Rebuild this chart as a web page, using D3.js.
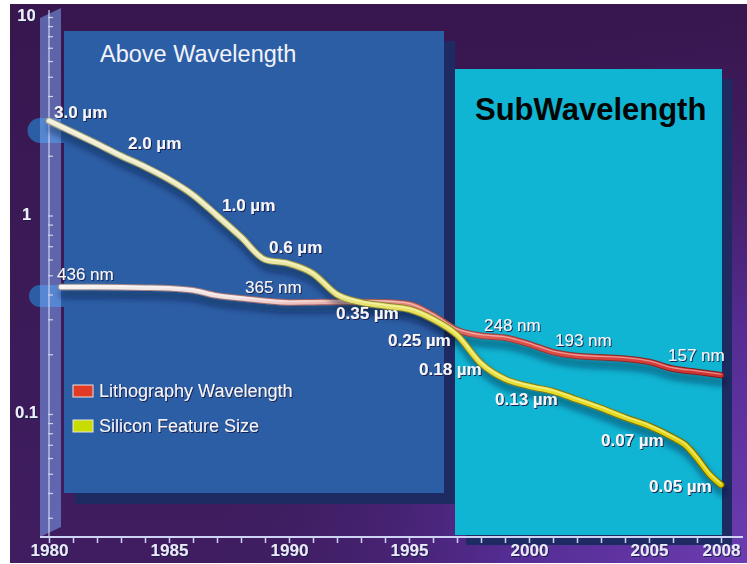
<!DOCTYPE html>
<html>
<head>
<meta charset="utf-8">
<script src="https://cdn.jsdelivr.net/npm/d3@7"></script>
<style>
  html, body { margin: 0; padding: 0; background: #ffffff; }
  svg { display: block; }
  text { font-family: "Liberation Sans", Arial, Helvetica, sans-serif; }
</style>
</head>
<body>
<svg id="chart" width="747" height="564"></svg>
<script>
// ---- data -------------------------------------------------------------
// Silicon feature size (µm) by year
const featureYears = [1980, 1981, 1982, 1983, 1984, 1985, 1986, 1987, 1988, 1989,
  1990, 1991, 1992, 1993, 1994, 1995, 1996, 1997, 1998, 1999,
  2000, 2001, 2002, 2003, 2004, 2005, 2006, 2006.5, 2007, 2007.5, 2008];
const featureSizes = [3.0, 2.63, 2.3, 2.0, 1.76, 1.52, 1.27, 1.0, 0.78, 0.6,
  0.572, 0.51, 0.40, 0.365, 0.35, 0.337, 0.30, 0.25, 0.18, 0.15,
  0.138, 0.13, 0.118, 0.107, 0.096, 0.087, 0.076, 0.07, 0.060, 0.05, 0.044];

// Lithography wavelength (µm) by year
const lithoYears = [1980.5, 1981, 1982, 1983, 1984, 1985, 1986, 1987, 1988, 1989,
  1990, 1991, 1992, 1993, 1994, 1995, 1996, 1997, 1998, 1999,
  2000, 2001, 2002, 2003, 2004, 2005, 2006, 2007, 2008];
const lithoWavelengths = [0.436, 0.436, 0.436, 0.435, 0.433, 0.43, 0.42, 0.395, 0.383, 0.372,
  0.365, 0.366, 0.367, 0.367, 0.366, 0.357, 0.315, 0.265, 0.248, 0.242,
  0.225, 0.205, 0.196, 0.193, 0.19, 0.183, 0.169, 0.163, 0.157];

// Annotated nodes
const featureLabelTexts = ["3.0 µm", "2.0 µm", "1.0 µm", "0.6 µm", "0.35 µm",
  "0.25 µm", "0.18 µm", "0.13 µm", "0.07 µm", "0.05 µm"];
const featureLabelYears = [1980, 1983, 1987, 1989, 1994, 1997, 1998, 2001, 2006.5, 2007.5];
const featureLabelValues = [3.0, 2.0, 1.0, 0.6, 0.35, 0.25, 0.18, 0.13, 0.07, 0.05];

const lithoLabelTexts = ["436 nm", "365 nm", "248 nm", "193 nm", "157 nm"];
const lithoLabelYears = [1980.5, 1990, 1998, 2003, 2008];
const lithoLabelValues = [0.436, 0.365, 0.248, 0.193, 0.157];

// Axes
const xTickYears = d3.range(1980, 2009);
const xTickLabels = [1980, 1985, 1990, 1995, 2000, 2005, 2008];
const yTickValues = [10, 1, 0.1];
const yTickLabels = ["10", "1", "0.1"];

const legendNames = ["Lithography Wavelength", "Silicon Feature Size"];
const panelTitles = ["Above Wavelength", "SubWavelength"];

// ---- layout ------------------------------------------------------------
// label offsets (px) from each annotated node to the text's left baseline
const featureLabelOffsets = [[5, -3], [7, -7], [5, -4.5], [4, -6.5], [-49, 13],
  [-69, 11], [-62, 12], [-58, 14], [-84, 1], [-60, 18]];
const lithoLabelOffsets = [[-4, -7], [-44, -9.5], [3, -5], [-46, -11], [-53, -14]];

const W = 747, H = 564;
const svg = d3.select("#chart");

const x = d3.scaleLinear().domain([1980, 2008]).range([49, 721]);
const y = d3.scaleLog().domain([10, 0.1]).range([17, 414]);
const axisY = 537;

// ---- defs --------------------------------------------------------------
const defs = svg.append("defs");

const bgGrad = defs.append("linearGradient").attr("id", "bgGrad")
  .attr("x1", 0).attr("y1", 0).attr("x2", 0).attr("y2", 1);
bgGrad.append("stop").attr("offset", 0).attr("stop-color", "#38174f");
bgGrad.append("stop").attr("offset", 1).attr("stop-color", "#3f1d60");

const glow = defs.append("radialGradient").attr("id", "glow")
  .attr("gradientUnits", "userSpaceOnUse")
  .attr("cx", 760).attr("cy", 575).attr("r", 560);
glow.append("stop").attr("offset", 0).attr("stop-color", "#6e3eb4").attr("stop-opacity", 1);
glow.append("stop").attr("offset", 0.45).attr("stop-color", "#5a30a0").attr("stop-opacity", 0.8);
glow.append("stop").attr("offset", 1).attr("stop-color", "#3f1d60").attr("stop-opacity", 0);

function strokeGradient(id, stops) {
  const g = defs.append("linearGradient").attr("id", id)
    .attr("gradientUnits", "userSpaceOnUse")
    .attr("x1", x(1980)).attr("y1", 0).attr("x2", x(2008)).attr("y2", 0);
  stops.forEach(([o, c]) => g.append("stop").attr("offset", o).attr("stop-color", c));
}
strokeGradient("featGrad", [[0, "#efeed6"], [0.3, "#e9e7b0"], [0.45, "#e8e47a"],
  [0.6, "#e8e244"], [0.8, "#e6dc20"], [1, "#dccf00"]]);
strokeGradient("featEdge", [[0, "#9a987e"], [0.4, "#908c40"], [1, "#6e6400"]]);
strokeGradient("lithoGrad", [[0, "#f6f3f3"], [0.28, "#f1dede"], [0.42, "#eab0aa"],
  [0.55, "#e47c72"], [0.7, "#de5048"], [1, "#d03030"]]);
strokeGradient("lithoEdge", [[0, "#a09898"], [0.4, "#a06060"], [1, "#801818"]]);

const lineShadow = defs.append("filter").attr("id", "lineShadow")
  .attr("x", "-10%").attr("y", "-20%").attr("width", "130%").attr("height", "160%");
lineShadow.append("feDropShadow").attr("dx", 2).attr("dy", 7).attr("stdDeviation", 3.5)
  .attr("flood-color", "#061034").attr("flood-opacity", 0.55);

const textShadow = defs.append("filter").attr("id", "textShadow")
  .attr("x", "-10%").attr("y", "-30%").attr("width", "130%").attr("height", "170%");
textShadow.append("feDropShadow").attr("dx", 1).attr("dy", 1).attr("stdDeviation", 0.7)
  .attr("flood-color", "#141c48").attr("flood-opacity", 0.95);

// ---- background ----------------------------------------------------------
svg.append("rect").attr("x", 10).attr("y", 4).attr("width", W - 10).attr("height", 559)
  .attr("fill", "url(#bgGrad)");
svg.append("rect").attr("x", 10).attr("y", 4).attr("width", W - 10).attr("height", 559)
  .attr("fill", "url(#glow)");

// ---- panels ------------------------------------------------------------
const panels = svg.append("g");
panels.append("rect").attr("x", 75).attr("y", 41).attr("width", 380).attr("height", 463)
  .attr("fill", "#1e2b63");
panels.append("rect").attr("x", 64).attr("y", 31).attr("width", 380).attr("height", 462)
  .attr("fill", "#2c5ea5");
panels.append("rect").attr("x", 466).attr("y", 79).attr("width", 266).attr("height", 466)
  .attr("fill", "#1e2b63");
panels.append("rect").attr("x", 455).attr("y", 69).attr("width", 267).attr("height", 466)
  .attr("fill", "#10b5d3");

// round tabs joining the axis to the panel
[[130.5, 12.5], [296, 11]].forEach(([cy, r]) => {
  panels.append("circle").attr("cx", 40).attr("cy", cy).attr("r", r).attr("fill", "#2c5ea5");
  panels.append("rect").attr("x", 40).attr("y", cy - r).attr("width", 24).attr("height", 2 * r)
    .attr("fill", "#2c5ea5");
});

// translucent axis band
svg.append("path")
  .attr("d", "M40,18 L61,8 L61,527 L40,537 Z")
  .attr("fill", "rgba(130,175,255,0.5)");

// ---- axes ----------------------------------------------------------------
const axisColor = "#cdd3f2";

// vertical axis line + log ticks
svg.append("line").attr("x1", 49).attr("x2", 49).attr("y1", 10).attr("y2", axisY)
  .attr("stroke", axisColor).attr("stroke-width", 1.2);

const yMinorTicks = d3.scaleLog().domain([0.025, 10]).ticks();
const yAxis = d3.axisRight(y).tickValues(yMinorTicks).tickSize(5).tickFormat("");
const yAxisG = svg.append("g").attr("transform", "translate(48,0)").call(yAxis);
yAxisG.select(".domain").remove();
yAxisG.selectAll(".tick line").attr("stroke", axisColor).attr("stroke-width", 1.2);

svg.append("g").attr("filter", "url(#textShadow)")
  .selectAll("text").data(yTickValues).join("text")
  .attr("x", 26.5).attr("y", d => y(d) + 4)
  .attr("text-anchor", "middle")
  .attr("font-size", 16.5).attr("font-weight", "bold").attr("fill", "#eeeefa")
  .text((d, i) => yTickLabels[i]);

// horizontal axis
svg.append("line").attr("x1", 40).attr("x2", 743).attr("y1", axisY).attr("y2", axisY)
  .attr("stroke", axisColor).attr("stroke-width", 2);

const xAxis = d3.axisBottom(x).tickValues(xTickYears).tickSize(7).tickPadding(1)
  .tickFormat(d => xTickLabels.includes(d) ? String(d) : "");
const xAxisG = svg.append("g").attr("transform", `translate(0,${axisY - 1})`).call(xAxis);
xAxisG.select(".domain").remove();
xAxisG.selectAll(".tick line").attr("stroke", axisColor).attr("stroke-width", 1.5);
xAxisG.selectAll(".tick text")
  .attr("font-family", "'Liberation Sans', Arial, sans-serif")
  .attr("font-size", 17).attr("font-weight", "bold").attr("fill", "#e8e8f8")
  .attr("filter", "url(#textShadow)");

// ---- panel titles & legend ---------------------------------------------------
svg.append("text").attr("x", 100).attr("y", 61.5)
  .attr("font-size", 23.5).attr("fill", "#f2f3fa").text(panelTitles[0]);
svg.append("text").attr("x", 475).attr("y", 120)
  .attr("font-size", 31).attr("font-weight", "bold").attr("fill", "#050505").text(panelTitles[1]);

const legendColors = ["#e23a24", "#c8dc00"];
const legendRows = [391, 426];
const legend = svg.append("g");
legendNames.forEach((name, i) => {
  legend.append("rect").attr("x", 73).attr("y", legendRows[i] - 6).attr("width", 20).attr("height", 12)
    .attr("fill", legendColors[i]).attr("stroke", "#e8e4e4").attr("stroke-width", 1);
  legend.append("text").attr("x", 99).attr("y", legendRows[i] + 6)
    .attr("font-size", 18).attr("fill", "#f4f4fa").attr("filter", "url(#textShadow)")
    .text(name);
});

// ---- series lines ----------------------------------------------------------------
const line = d3.line()
  .x(d => x(d[0]))
  .y(d => y(d[1]))
  .curve(d3.curveMonotoneX);

const featData = featureYears.map((yr, i) => [yr, featureSizes[i]]);
const lithoData = lithoYears.map((yr, i) => [yr, lithoWavelengths[i]]);

function drawTube(data, edgeId, fillId, width) {
  const g = svg.append("g").attr("filter", "url(#lineShadow)");
  g.append("path").attr("d", line(data)).attr("fill", "none")
    .attr("stroke", `url(#${edgeId})`).attr("stroke-width", width + 2)
    .attr("stroke-linecap", "round").attr("stroke-linejoin", "round");
  g.append("path").attr("d", line(data)).attr("fill", "none")
    .attr("stroke", `url(#${fillId})`).attr("stroke-width", width)
    .attr("stroke-linecap", "round").attr("stroke-linejoin", "round");
  g.append("path").attr("d", line(data)).attr("fill", "none")
    .attr("transform", "translate(0,-1)")
    .attr("stroke", "#ffffff").attr("stroke-opacity", 0.45).attr("stroke-width", width * 0.3)
    .attr("stroke-linecap", "round");
}

drawTube(lithoData, "lithoEdge", "lithoGrad", 4.5);
drawTube(featData, "featEdge", "featGrad", 5);

// ---- node labels ---------------------------------------------------------------
const labelG = svg.append("g").attr("filter", "url(#textShadow)");

labelG.selectAll("text.litho").data(lithoLabelTexts).join("text")
  .attr("class", "litho")
  .attr("x", (d, i) => x(lithoLabelYears[i]) + lithoLabelOffsets[i][0])
  .attr("y", (d, i) => y(lithoLabelValues[i]) + lithoLabelOffsets[i][1])
  .attr("font-size", 17).attr("fill", "#f6f6fa")
  .text(d => d);

labelG.selectAll("text.feat").data(featureLabelTexts).join("text")
  .attr("class", "feat")
  .attr("x", (d, i) => x(featureLabelYears[i]) + featureLabelOffsets[i][0])
  .attr("y", (d, i) => y(featureLabelValues[i]) + featureLabelOffsets[i][1])
  .attr("font-size", 17).attr("font-weight", "bold").attr("fill", "#f6f6fa")
  .text(d => d);
</script>
</body>
</html>
